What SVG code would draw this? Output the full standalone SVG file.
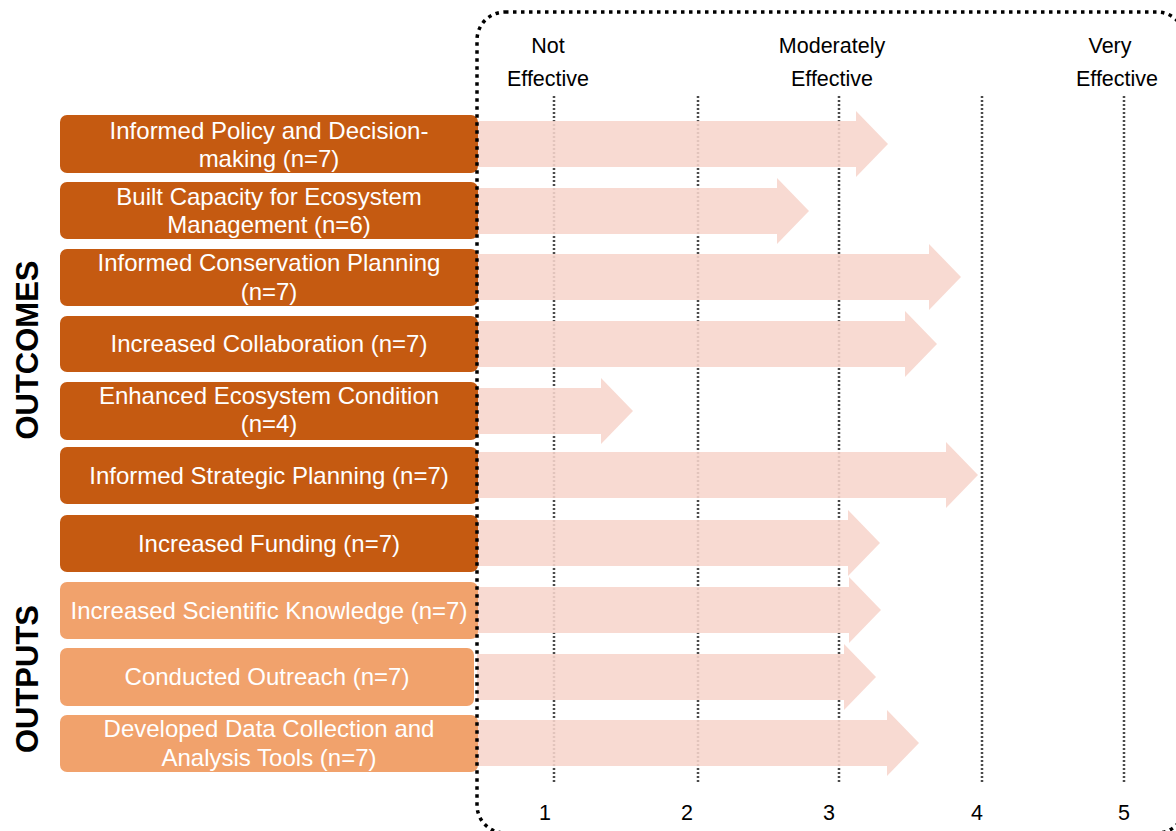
<svg xmlns="http://www.w3.org/2000/svg" width="1176" height="831" viewBox="0 0 1176 831">
<style>
text{font-family:"Liberation Sans",Arial,sans-serif}
.box{rx:7px}
.dark{fill:#C55A11}
.light{fill:#F1A26C}
.lbl{fill:#fff;font-size:24px;text-anchor:middle}
.top{fill:#000;font-size:21.5px;text-anchor:middle}
.grid{stroke:#4a4a4a;stroke-width:2.5;stroke-dasharray:2 2;fill:none}
.arr{fill:#F7D5CC;fill-opacity:0.88}
.side{fill:#000;font-size:31px;font-weight:bold;text-anchor:middle}
</style>
<rect width="1176" height="831" fill="#fff"/>
<g id="grid">
<line class="grid" x1="554" y1="96" x2="554" y2="782"/>
<line class="grid" x1="698" y1="96" x2="698" y2="782"/>
<line class="grid" x1="839" y1="96" x2="839" y2="782"/>
<line class="grid" x1="982" y1="96" x2="982" y2="782"/>
<line class="grid" x1="1124" y1="96" x2="1124" y2="782"/>
</g>
<g id="scale-labels">
<text class="top" x="548" y="53">Not</text>
<text class="top" x="548" y="86">Effective</text>
<text class="top" x="832" y="53">Moderately</text>
<text class="top" x="832" y="86">Effective</text>
<text class="top" x="1110" y="53">Very</text>
<text class="top" x="1117" y="86">Effective</text>
<text class="top" x="545" y="820">1</text>
<text class="top" x="687" y="820">2</text>
<text class="top" x="829" y="820">3</text>
<text class="top" x="977" y="820">4</text>
<text class="top" x="1124" y="820">5</text>
</g>
<g id="connectors">
<path class="arr" d="M477,121 H856 V111 L888,144 L856,177 V167 H477 Z"/>
<path class="arr" d="M477,188 H777 V178 L809,211 L777,244 V234 H477 Z"/>
<path class="arr" d="M477,254 H929 V244 L961,277 L929,310 V300 H477 Z"/>
<path class="arr" d="M477,321 H905 V311 L937,344 L905,377 V367 H477 Z"/>
<path class="arr" d="M477,388 H601 V378 L633,411 L601,444 V434 H477 Z"/>
<path class="arr" d="M477,452 H946 V442 L978,475 L946,508 V498 H477 Z"/>
<path class="arr" d="M477,520 H848 V510 L880,543 L848,576 V566 H477 Z"/>
<path class="arr" d="M477,587 H849 V577 L881,610 L849,643 V633 H477 Z"/>
<path class="arr" d="M477,654 H844 V644 L876,677 L844,710 V700 H477 Z"/>
<path class="arr" d="M477,720 H887 V710 L919,743 L887,776 V766 H477 Z"/>
</g>
<g id="n1"><rect class="box dark" x="60" y="115" width="418" height="58"/><text class="lbl" x="269" y="139">Informed Policy and Decision-</text><text class="lbl" x="269" y="167">making (n=7)</text></g>
<g id="n2"><rect class="box dark" x="60" y="182" width="418" height="57"/><text class="lbl" x="269" y="205">Built Capacity for Ecosystem</text><text class="lbl" x="269" y="233">Management (n=6)</text></g>
<g id="n3"><rect class="box dark" x="60" y="249" width="418" height="57"/><text class="lbl" x="269" y="271">Informed Conservation Planning</text><text class="lbl" x="269" y="300">(n=7)</text></g>
<g id="n4"><rect class="box dark" x="60" y="316" width="418" height="56"/><text class="lbl" x="269" y="352">Increased Collaboration (n=7)</text></g>
<g id="n5"><rect class="box dark" x="60" y="382" width="418" height="58"/><text class="lbl" x="269" y="404">Enhanced Ecosystem Condition</text><text class="lbl" x="269" y="432">(n=4)</text></g>
<g id="n6"><rect class="box dark" x="60" y="447" width="418" height="57"/><text class="lbl" x="269" y="484">Informed Strategic Planning (n=7)</text></g>
<g id="n7"><rect class="box dark" x="60" y="515" width="418" height="57"/><text class="lbl" x="269" y="552">Increased Funding (n=7)</text></g>
<g id="n8"><rect class="box light" x="60" y="582" width="418" height="57"/><text class="lbl" x="269" y="619">Increased Scientific Knowledge (n=7)</text></g>
<g id="n9"><rect class="box light" x="60" y="648" width="414" height="58"/><text class="lbl" x="267" y="685">Conducted Outreach (n=7)</text></g>
<g id="n10"><rect class="box light" x="60" y="715" width="418" height="57"/><text class="lbl" x="269" y="737">Developed Data Collection and</text><text class="lbl" x="269" y="766">Analysis Tools (n=7)</text></g>
<g id="border"><rect x="477" y="12" width="708" height="821" rx="28" fill="none" stroke="#000" stroke-width="3.5" stroke-dasharray="3.5 4.5"/></g>
<g id="outcomes"><text class="side" transform="translate(38,350) rotate(-90)">OUTCOMES</text></g>
<g id="outputs"><text class="side" transform="translate(38,679) rotate(-90)">OUTPUTS</text></g>
</svg>
